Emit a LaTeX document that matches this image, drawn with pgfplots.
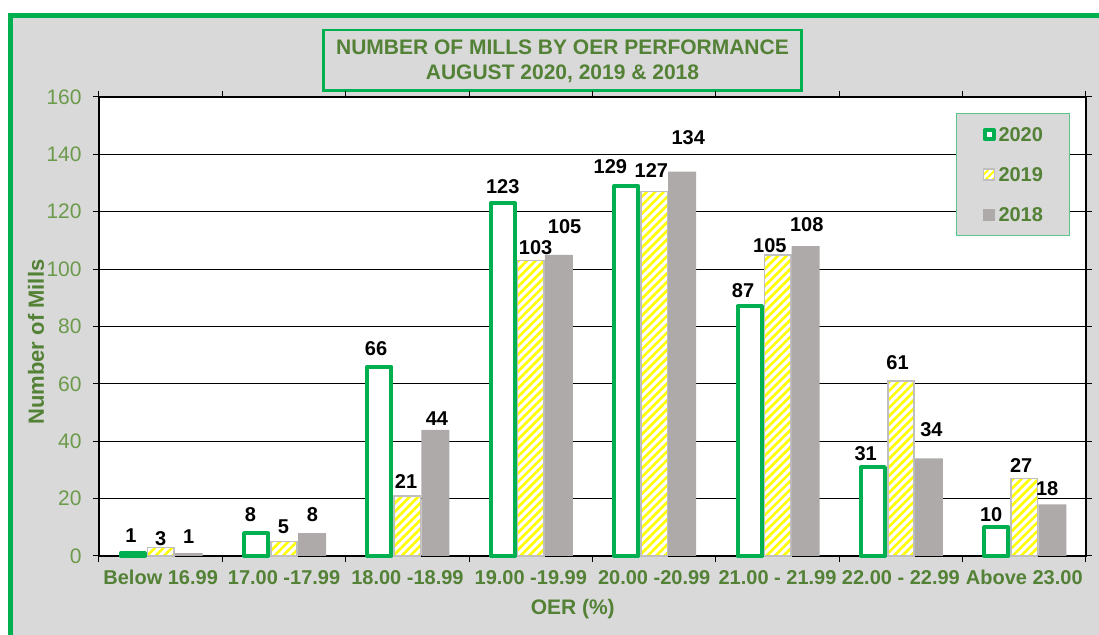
\documentclass[border=0pt]{standalone}
\usepackage{pgfplots}
\usepackage{pgfplotstable}
\pgfplotsset{compat=1.18}
\usepackage{fontspec}
\setmainfont{Liberation Sans}
\usetikzlibrary{patterns.meta}
\definecolor{bggray}{HTML}{D9D9D9}
\definecolor{framegreen}{HTML}{00B050}
\definecolor{txtgreen}{HTML}{538135}
\definecolor{tickgreen}{HTML}{6B9A4B}
\definecolor{bar18}{HTML}{AEAAAA}
\definecolor{bar19edge}{HTML}{BFBFBF}
\definecolor{legendgreen}{HTML}{5BC58A}

\pgfplotstableread{
x v20 v19 v18
0 1 3 1
1 8 5 8
2 66 21 44
3 123 103 105
4 129 127 134
5 87 105 108
6 31 61 34
7 10 27 18
}\bars

\pgfplotstableread{
x y v
-0.241 6.97 1
0.001 5.93 3
0.227 6.62 1
0.728 14.29 8
0.995 10.1 5
1.229 14.29 8
1.746 72.15 66
1.989 25.8 21
2.239 47.75 44
2.773 128.6 123
3.039 107.35 103
3.274 114.7 105
3.645 135.9 129
3.977 134.2 127
4.276 146.0 134
4.720 92.4 87
4.938 108.05 105
5.237 115.5 108
5.714 35.55 31
5.973 67.27 61
6.247 43.9 34
6.732 14.29 10
6.975 31.37 27
7.185 23.35 18
}\labs

\begin{document}
\begin{tikzpicture}
\useasboundingbox (0,0) rectangle (549.5pt,317.5pt);
\fill[white] (0,0) rectangle (549.5pt,317.5pt);
\fill[bggray] (5.4pt,-5pt) rectangle (560pt,309.6pt);
\draw[framegreen, line width=2.5pt] (5.4pt,-5pt) -- (5.4pt,309.6pt) -- (560pt,309.6pt);
\draw[framegreen, line width=1.35pt, fill=bggray] (161.65pt,272.15pt) rectangle (400.85pt,302.5pt);
\node[align=center, font=\fontsize{10.5}{12.5}\selectfont\bfseries, text=txtgreen] at (281.25pt,286.75pt) {NUMBER OF MILLS BY OER PERFORMANCE\\AUGUST 2020, 2019 \& 2018};
\begin{axis}[
  at={(49.5pt,39.5pt)}, anchor=south west, scale only axis,
  width=493.5pt, height=229.5pt,
  xmin=-0.5, xmax=7.5, ymin=0, ymax=160,
  axis background/.style={fill=white},
  clip=false,
  xtick={0,...,7},
  xticklabels={Below 16.99, 17.00 -17.99, 18.00 -18.99, 19.00 -19.99, 20.00 -20.99, 21.00 - 21.99, 22.00 - 22.99, Above 23.00},
  major x tick style={draw=none},
  minor xtick={-0.5,0.5,...,7.5},
  ytick={0,20,...,160},
  tick align=outside,
  major tick length=3pt, minor tick length=3pt,
  tick style={black, line width=0.5pt},
  ymajorgrids, grid style={black, line width=0.5pt},
  axis line style={black, line width=0.6pt},
  /pgf/number format/assume math mode=true,
  yticklabel style={font=\fontsize{10.5}{12}\selectfont, text=tickgreen, inner sep=0pt, xshift=-5.5pt},
  xticklabel style={font=\fontsize{10}{12}\selectfont\bfseries, text=txtgreen, anchor=base, inner sep=0pt, yshift=-11.5pt},
  xlabel={OER (\%)}, ylabel={Number of Mills},
  xlabel style={at={(axis description cs:0.480,-0.1155)}, anchor=center, font=\fontsize{10.5}{12}\selectfont\bfseries, text=txtgreen},
  ylabel style={at={(axis description cs:-0.0638,0.466)}, anchor=center, font=\fontsize{11}{12}\selectfont\bfseries, text=txtgreen},
  legend style={at={(0.8683,0.9651)}, anchor=north west, draw=legendgreen, line width=0.5pt, fill=bggray,
    font=\fontsize{10}{12}\selectfont\bfseries, text=txtgreen, inner xsep=13pt, inner ysep=6.9pt, row sep=12.8pt,
    nodes={inner sep=0pt, text height=7.2pt, text depth=0pt},
    /tikz/every odd column/.append style={column sep=1.5pt}},
  legend cell align=left,
]
\addplot[ybar, bar width=12pt, bar shift=-14pt, draw=framegreen, line width=2pt, fill=white, line join=round,
  legend image code/.code={\draw[framegreen, line width=2pt, fill=white, line join=round] (0.5pt,-2.25pt) rectangle (5pt,2.25pt);}]
  table[x=x, y=v20] {\bars};
\addlegendentry{2020}
\addplot[ybar, bar width=13.2pt, bar shift=0pt, draw=bar19edge, line width=0.8pt, preaction={fill=white},
  pattern={Lines[angle=45,distance=3pt,line width=1.3pt]}, pattern color=yellow,
  legend image code/.code={\draw[bar19edge, line width=0.8pt, preaction={fill=white}, pattern={Lines[angle=45,distance=2.5pt,line width=1pt]}, pattern color=yellow] (0pt,-2.85pt) rectangle (5.5pt,2.85pt);}]
  table[x=x, y=v19] {\bars};
\addlegendentry{2019}
\addplot[ybar, bar width=14pt, bar shift=14pt, fill=bar18, draw=none,
  legend image code/.code={\fill[bar18] (-0.25pt,-3pt) rectangle (5.75pt,3pt);}]
  table[x=x, y=v18] {\bars};
\addlegendentry{2018}
\addplot[draw=none, mark=none, forget plot, nodes near coords, point meta=explicit symbolic,
  every node near coord/.append style={anchor=center, inner sep=0pt, font=\fontsize{10}{12}\selectfont\bfseries, text=black}]
  table[x=x, y=y, meta=v] {\labs};
\end{axis}
\end{tikzpicture}
\end{document}
